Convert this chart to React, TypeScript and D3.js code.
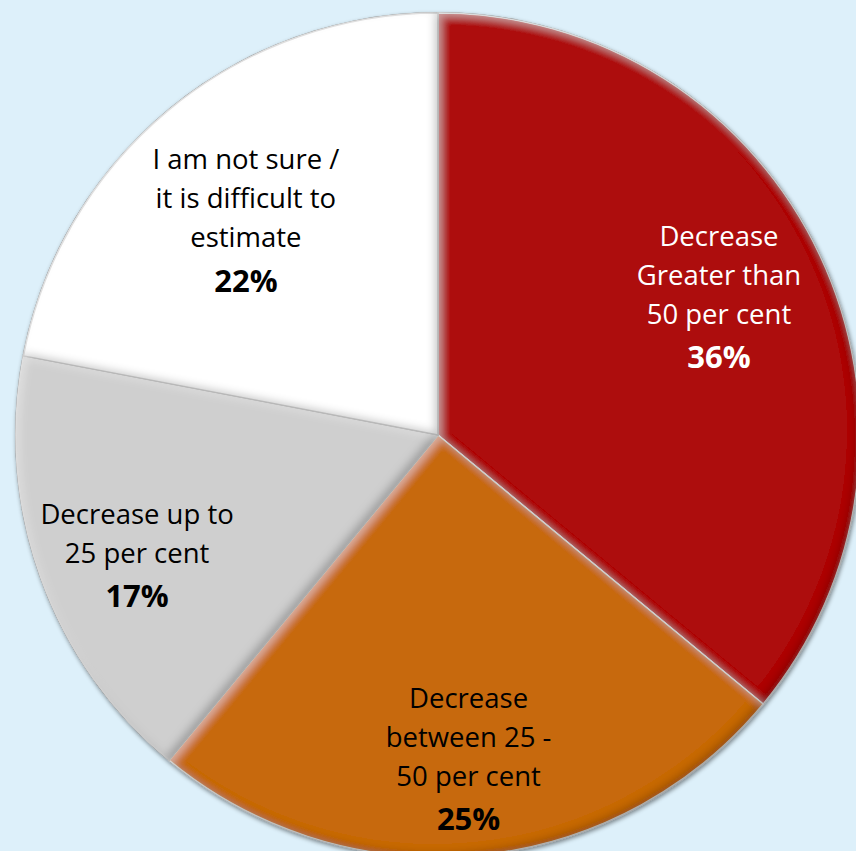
import React from "react";
import * as d3 from "d3";

const categories = [
  "Decrease Greater than 50 per cent",
  "Decrease between 25 - 50 per cent",
  "Decrease up to 25 per cent",
  "I am not sure / it is difficult to estimate",
];
const values = [36, 25, 17, 22];
const labelLines = [
  ["Decrease", "Greater than", "50 per cent"],
  ["Decrease", "between 25 -", "50 per cent"],
  ["Decrease up to", "25 per cent"],
  ["I am not sure /", "it is difficult to", "estimate"],
];
const colors = ["#ad0b0b", "#c7690a", "#cfcfcf", "#ffffff"];
const textColors = ["#ffffff", "#000000", "#000000", "#000000"];
// label placement: distance from the centre (share of radius) and angle nudge (degrees)
const labelRadius = [0.742, 0.77, 0.768, 0.683];
const labelAngleShift = [-1.0, 0, -2.0, -2.2];

const W = 856;
const H = 851;
const cx = 438;
const cy = 435;
const R = 422;

export default function App() {
  const pie = d3.pie<number>().sort(null).value((d) => d)(values);
  const arc = d3.arc<d3.PieArcDatum<number>>().innerRadius(0).outerRadius(R);
  const fontFamily = "'Open Sans', 'Noto Sans', sans-serif";
  const fs = 27.5;
  const lh = 39;
  return (
    <div style={{ position: "fixed", left: 0, top: 0, width: W, height: H }}>
      <svg width={W} height={H} style={{ display: "block" }}>
        <defs>
          <filter id="bevel" x="-5%" y="-5%" width="110%" height="110%">
            <feGaussianBlur in="SourceAlpha" stdDeviation="4" result="blur" />
            <feOffset in="blur" dx="-4" dy="-4" result="bUL" />
            <feComposite in="SourceAlpha" in2="bUL" operator="arithmetic" k2="1" k3="-1" result="edgeBR" />
            <feFlood floodColor="#000" floodOpacity="0.45" />
            <feComposite in2="edgeBR" operator="in" result="shadow" />
            <feOffset in="blur" dx="4" dy="4" result="bDR" />
            <feComposite in="SourceAlpha" in2="bDR" operator="arithmetic" k2="1" k3="-1" result="edgeUL" />
            <feFlood floodColor="#fff" floodOpacity="0.35" />
            <feComposite in2="edgeUL" operator="in" result="hl" />
            <feMerge>
              <feMergeNode in="SourceGraphic" />
              <feMergeNode in="shadow" />
              <feMergeNode in="hl" />
            </feMerge>
          </filter>
          <filter id="drop" x="-5%" y="-5%" width="110%" height="110%">
            <feGaussianBlur in="SourceAlpha" stdDeviation="2" />
            <feOffset dx="1" dy="2" result="b" />
            <feFlood floodColor="#000" floodOpacity="0.45" />
            <feComposite in2="b" operator="in" />
            <feMerge>
              <feMergeNode />
              <feMergeNode in="SourceGraphic" />
            </feMerge>
          </filter>
        </defs>
        <rect x={0} y={0} width={W} height={H} fill="#ddf0fa" />
        <g transform={`translate(${cx},${cy})`}>
          <circle r={R + 1} fill="#8a8a8a" filter="url(#drop)" />
          {pie.map((p, i) => (
            <path
              key={categories[i]}
              d={arc(p) || ""}
              fill={colors[i]}
              stroke="#d4d4d4"
              strokeWidth={1.5}
              filter="url(#bevel)"
            />
          ))}
          {pie.map((p, i) => {
            const la = d3
              .arc<d3.PieArcDatum<number>>()
              .innerRadius(R * labelRadius[i])
              .outerRadius(R * labelRadius[i]);
            const shift = (labelAngleShift[i] * Math.PI) / 180;
            const [lx, ly] = la.centroid({
              ...p,
              startAngle: p.startAngle + shift,
              endAngle: p.endAngle + shift,
            });
            const lines = labelLines[i];
            const total = lines.length + 1;
            const y0 = ly - ((total - 1) * lh + 4) / 2;
            return (
              <text
                key={"l" + i}
                textAnchor="middle"
                fontFamily={fontFamily}
                fontSize={fs}
                fill={textColors[i]}
              >
                {lines.map((t, j) => (
                  <tspan key={j} x={lx} y={y0 + j * lh} dy="0.35em">
                    {t}
                  </tspan>
                ))}
                <tspan
                  x={lx}
                  y={y0 + lines.length * lh + 4}
                  dy="0.35em"
                  fontWeight="bold"
                  fontSize={31}
                >
                  {`${values[i]}%`}
                </tspan>
              </text>
            );
          })}
        </g>
      </svg>
    </div>
  );
}
